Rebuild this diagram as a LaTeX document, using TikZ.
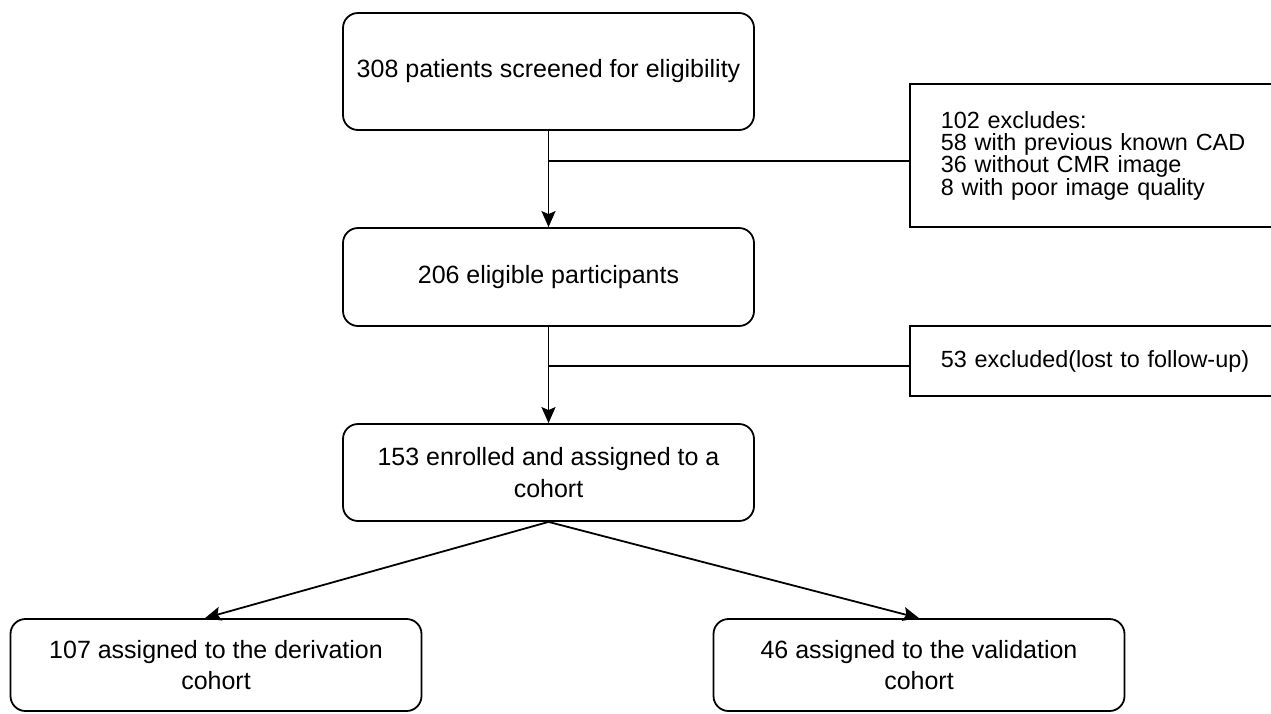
\documentclass[tikz,border=0pt]{standalone}
\usepackage{fontspec}
\setmainfont{Liberation Sans}
\usetikzlibrary{arrows.meta}

\begin{document}
\begin{tikzpicture}[x=1pt,y=-1pt,line width=1.8pt,>={Stealth[length=16pt,width=14pt,inset=3pt]},
	main node/.style = {draw, rounded corners=15pt, minimum width=411pt, align=center,
		font=\fontsize{25}{31.7}\selectfont},
	side node/.style = {draw, anchor=west, text width=330pt, inner xsep=31pt, align=left,
		font=\fontsize{23.4}{22.3}\selectfont}]
	\useasboundingbox (0,0) rectangle (1271,713);
	\node[main node,minimum height=117pt] at (548.5,71.5) (1) {308 patients screened for eligibility};
	\node[main node,minimum height=98pt] at (548.5,277) (2) {206 eligible participants};
	\node[main node,minimum height=97pt] at (548.5,472.5) (3) {153 enrolled and assigned to a\\cohort};
	\node[main node,minimum height=92pt] at (216,665) (4) {107 assigned to the derivation\\cohort};
	\node[main node,minimum height=92pt] at (919,665) (5) {46 assigned to the validation\\cohort};
	\node[side node,minimum height=143pt] at (909,155.5) (6) {102 excludes:\\58 with previous known CAD\\36 without CMR image\\8 with poor image quality};
	\node[side node,minimum height=70pt] at (909,361) (7) {53 excluded(lost to follow-up)};
	\coordinate (j1) at (548.5,161);
	\coordinate (j2) at (548.5,366);
	\draw[->] (1)--(2);
	\draw[->] (2)--(3);
	\draw[-] (j1)--(6.west |- j1);
	\draw[-] (j2)--(7.west |- j2);
	\draw[->] (3.south)--([xshift=-11pt]4.north);
	\draw[->] (3.south)--(5.north);
\end{tikzpicture}
\end{document}
